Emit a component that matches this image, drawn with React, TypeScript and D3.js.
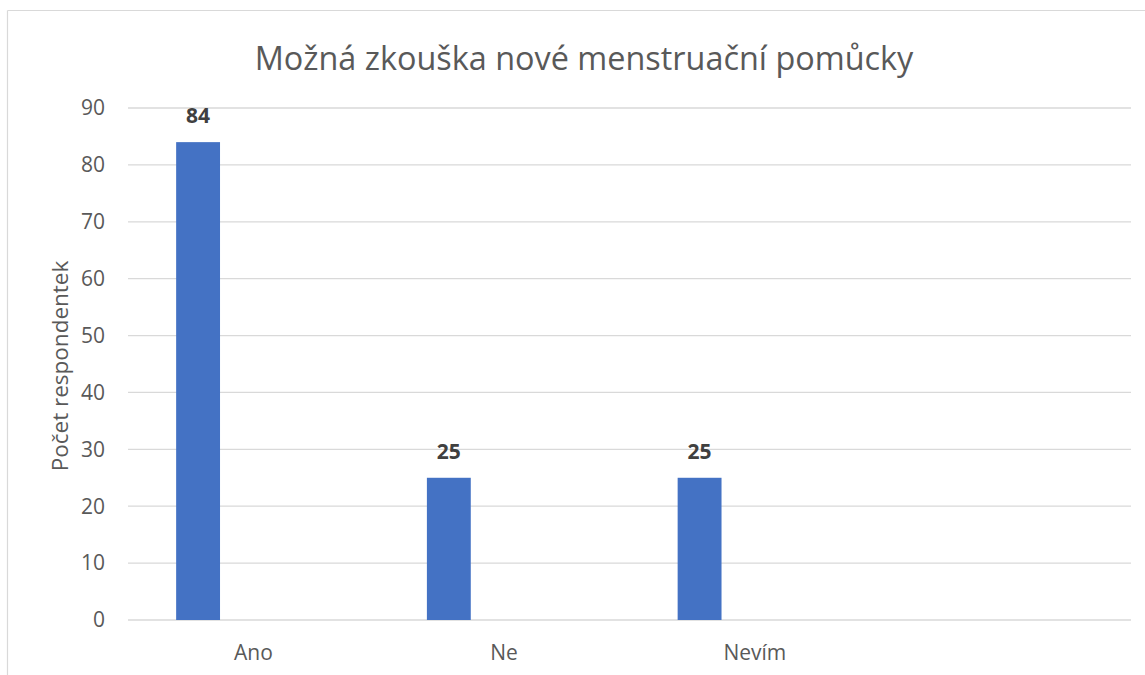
import React from "react";
import * as d3 from "d3";

const categories = ["Ano", "Ne", "Nevím", ""];
const values = [84, 25, 25, null];
const yTicks = [0, 10, 20, 30, 40, 50, 60, 70, 80, 90];
const title = "Možná zkouška nové menstruační pomůcky";
const yLabel = "Počet respondentek";

const W = 1145;
const H = 675;
const FONT = "'Open Sans', 'Noto Sans', sans-serif";

export default function App() {
  const left = 128;
  const right = 1131;
  const top = 108;
  const bottom = 620;

  const x = d3.scaleBand<string>().domain(categories.map((c, i) => c || `_${i}`)).range([left, right]).padding(0);
  const y = d3.scaleLinear().domain([0, 90]).range([bottom, top]);
  const bw = x.bandwidth();
  const barOffset = bw * 0.192;
  const barW = bw * 0.175;

  return (
    <svg width={W} height={H} style={{ position: "absolute", left: 0, top: 0, background: "#fff" }}>
      <rect x={0} y={0} width={W} height={H} fill="#fff" />
      <line x1={7.5} y1={10.5} x2={W} y2={10.5} stroke="#d9d9d9" strokeWidth={1.2} />
      <line x1={7.5} y1={10.5} x2={7.5} y2={H} stroke="#d9d9d9" strokeWidth={1.2} />

      <text x={584} y={70} textAnchor="middle" fontFamily={FONT} fontSize={32.4} fill="#595959">
        {title}
      </text>

      {yTicks.map((t) => (
        <g key={t}>
          <line x1={left} x2={right} y1={y(t)} y2={y(t)} stroke="#d9d9d9" strokeWidth={1.3} />
          <text x={105} y={y(t)} dy="0.35em" textAnchor="end" fontFamily={FONT} fontSize={21} fill="#595959">
            {t}
          </text>
        </g>
      ))}

      <text
        transform={`translate(68,${(top + bottom) / 2 + 2}) rotate(-90)`}
        textAnchor="middle"
        fontFamily={FONT}
        fontSize={22.5}
        fill="#595959"
      >
        {yLabel}
      </text>

      {categories.map((c, i) => {
        const key = c || `_${i}`;
        const v = values[i];
        const bx = (x(key) as number) + barOffset;
        return (
          <g key={key}>
            {v != null && (
              <>
                <rect x={bx} y={y(v)} width={barW} height={y(0) - y(v)} fill="#4472C4" />
                <text
                  x={bx + barW / 2}
                  y={y(v) - 19}
                  textAnchor="middle"
                  fontFamily={FONT}
                  fontSize={21}
                  fontWeight="bold"
                  fill="#404040"
                >
                  {v}
                </text>
              </>
            )}
            {c && (
              <text
                x={(x(key) as number) + bw / 2}
                y={660}
                textAnchor="middle"
                fontFamily={FONT}
                fontSize={21}
                fill="#595959"
              >
                {c}
              </text>
            )}
          </g>
        );
      })}
    </svg>
  );
}
